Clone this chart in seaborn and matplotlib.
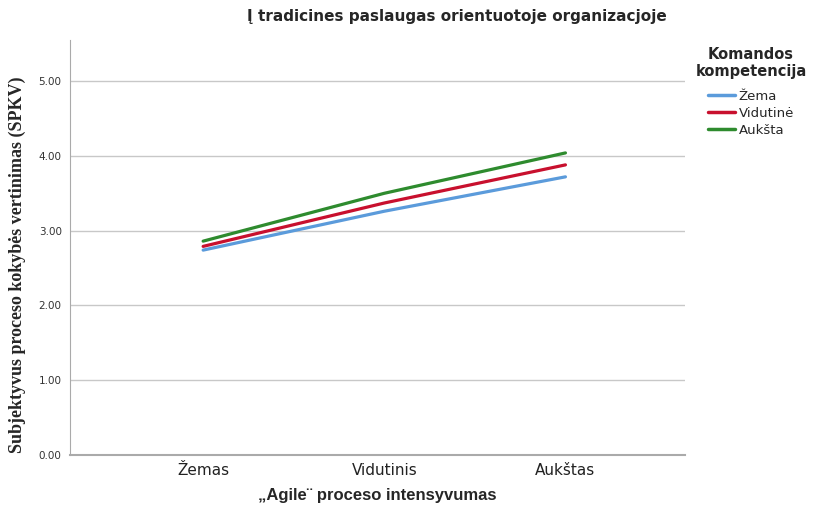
import numpy as np
import pandas as pd
import matplotlib.pyplot as plt
import seaborn as sns

# Profile plot: SPKV by Agile intensity and team competence
categories = ["Žemas", "Vidutinis", "Aukštas"]
groups = ["Žema", "Vidutinė", "Aukšta"]
zema = [2.74, 3.26, 3.72]
vidutine = [2.79, 3.37, 3.88]
auksta = [2.86, 3.50, 4.04]
colors = ["#5B9BDB", "#C8102E", "#2E8B2E"]

df = pd.DataFrame({
    "x": list(range(3)) * 3,
    "y": zema + vidutine + auksta,
    "grupe": [g for g in groups for _ in range(3)],
})

sns.set_style("white")
plt.rcParams["font.family"] = ["DejaVu Sans"]

fig = plt.figure(figsize=(8.13, 5.14), dpi=100)
ax = fig.add_axes([70 / 813, 59 / 514, 615 / 813, 415 / 514])

sns.lineplot(data=df, x="x", y="y", hue="grupe", hue_order=groups,
             palette=colors, linewidth=2.3, ax=ax, legend=False)

ax.set_xlim(-0.735, 2.66)
ax.set_ylim(0, 5.55)
ax.set_yticks(np.arange(0, 6, 1.0))
ax.set_yticklabels([f"{v:.2f}" for v in np.arange(0, 6, 1.0)], fontsize=7.5, color="#333333")
ax.set_xticks(range(3))
ax.set_xticklabels(categories, fontsize=11, color="#222222")
ax.tick_params(axis="both", length=0, pad=6)
ax.grid(axis="y", color="#c8c8c8", linewidth=1)
for s in ["top", "right"]:
    ax.spines[s].set_visible(False)
ax.spines["left"].set_color("#aaaaaa")
ax.spines["bottom"].set_color("#aaaaaa")
ax.spines["bottom"].set_linewidth(1.5)

ax.set_xlabel("\u201eAgile\u00a8 proceso intensyvumas", fontsize=12, fontweight="bold",
              family="Liberation Sans", labelpad=7)
ax.set_ylabel("Subjektyvus proceso kokybės vertinimas (SPKV)", fontsize=13, fontweight="bold",
              family="Liberation Serif", va="center")
ax.yaxis.set_label_coords(-0.086, 0.458)
fig.text(457 / 813, 1 - 17 / 514, "Į tradicines paslaugas orientuotoje organizacjoje",
         ha="center", va="center", fontsize=11, fontweight="bold", family="DejaVu Sans")

handles = [plt.Line2D([], [], color=c, linewidth=2.5) for c in colors]
leg = fig.legend(handles, groups, title="Komandos\nkompetencija", loc="upper center",
                 bbox_to_anchor=(751 / 813, 1 - 44 / 514), frameon=False,
                 fontsize=9.5, handlelength=2.0, handletextpad=0.3, labelspacing=0.3,
                 borderaxespad=0, borderpad=0.2)
leg.get_title().set_fontweight("bold")
leg.get_title().set_fontsize(10.5)
leg.get_title().set_multialignment("center")
leg._legend_box.sep += 5

fig.savefig("out.png", dpi=100)
